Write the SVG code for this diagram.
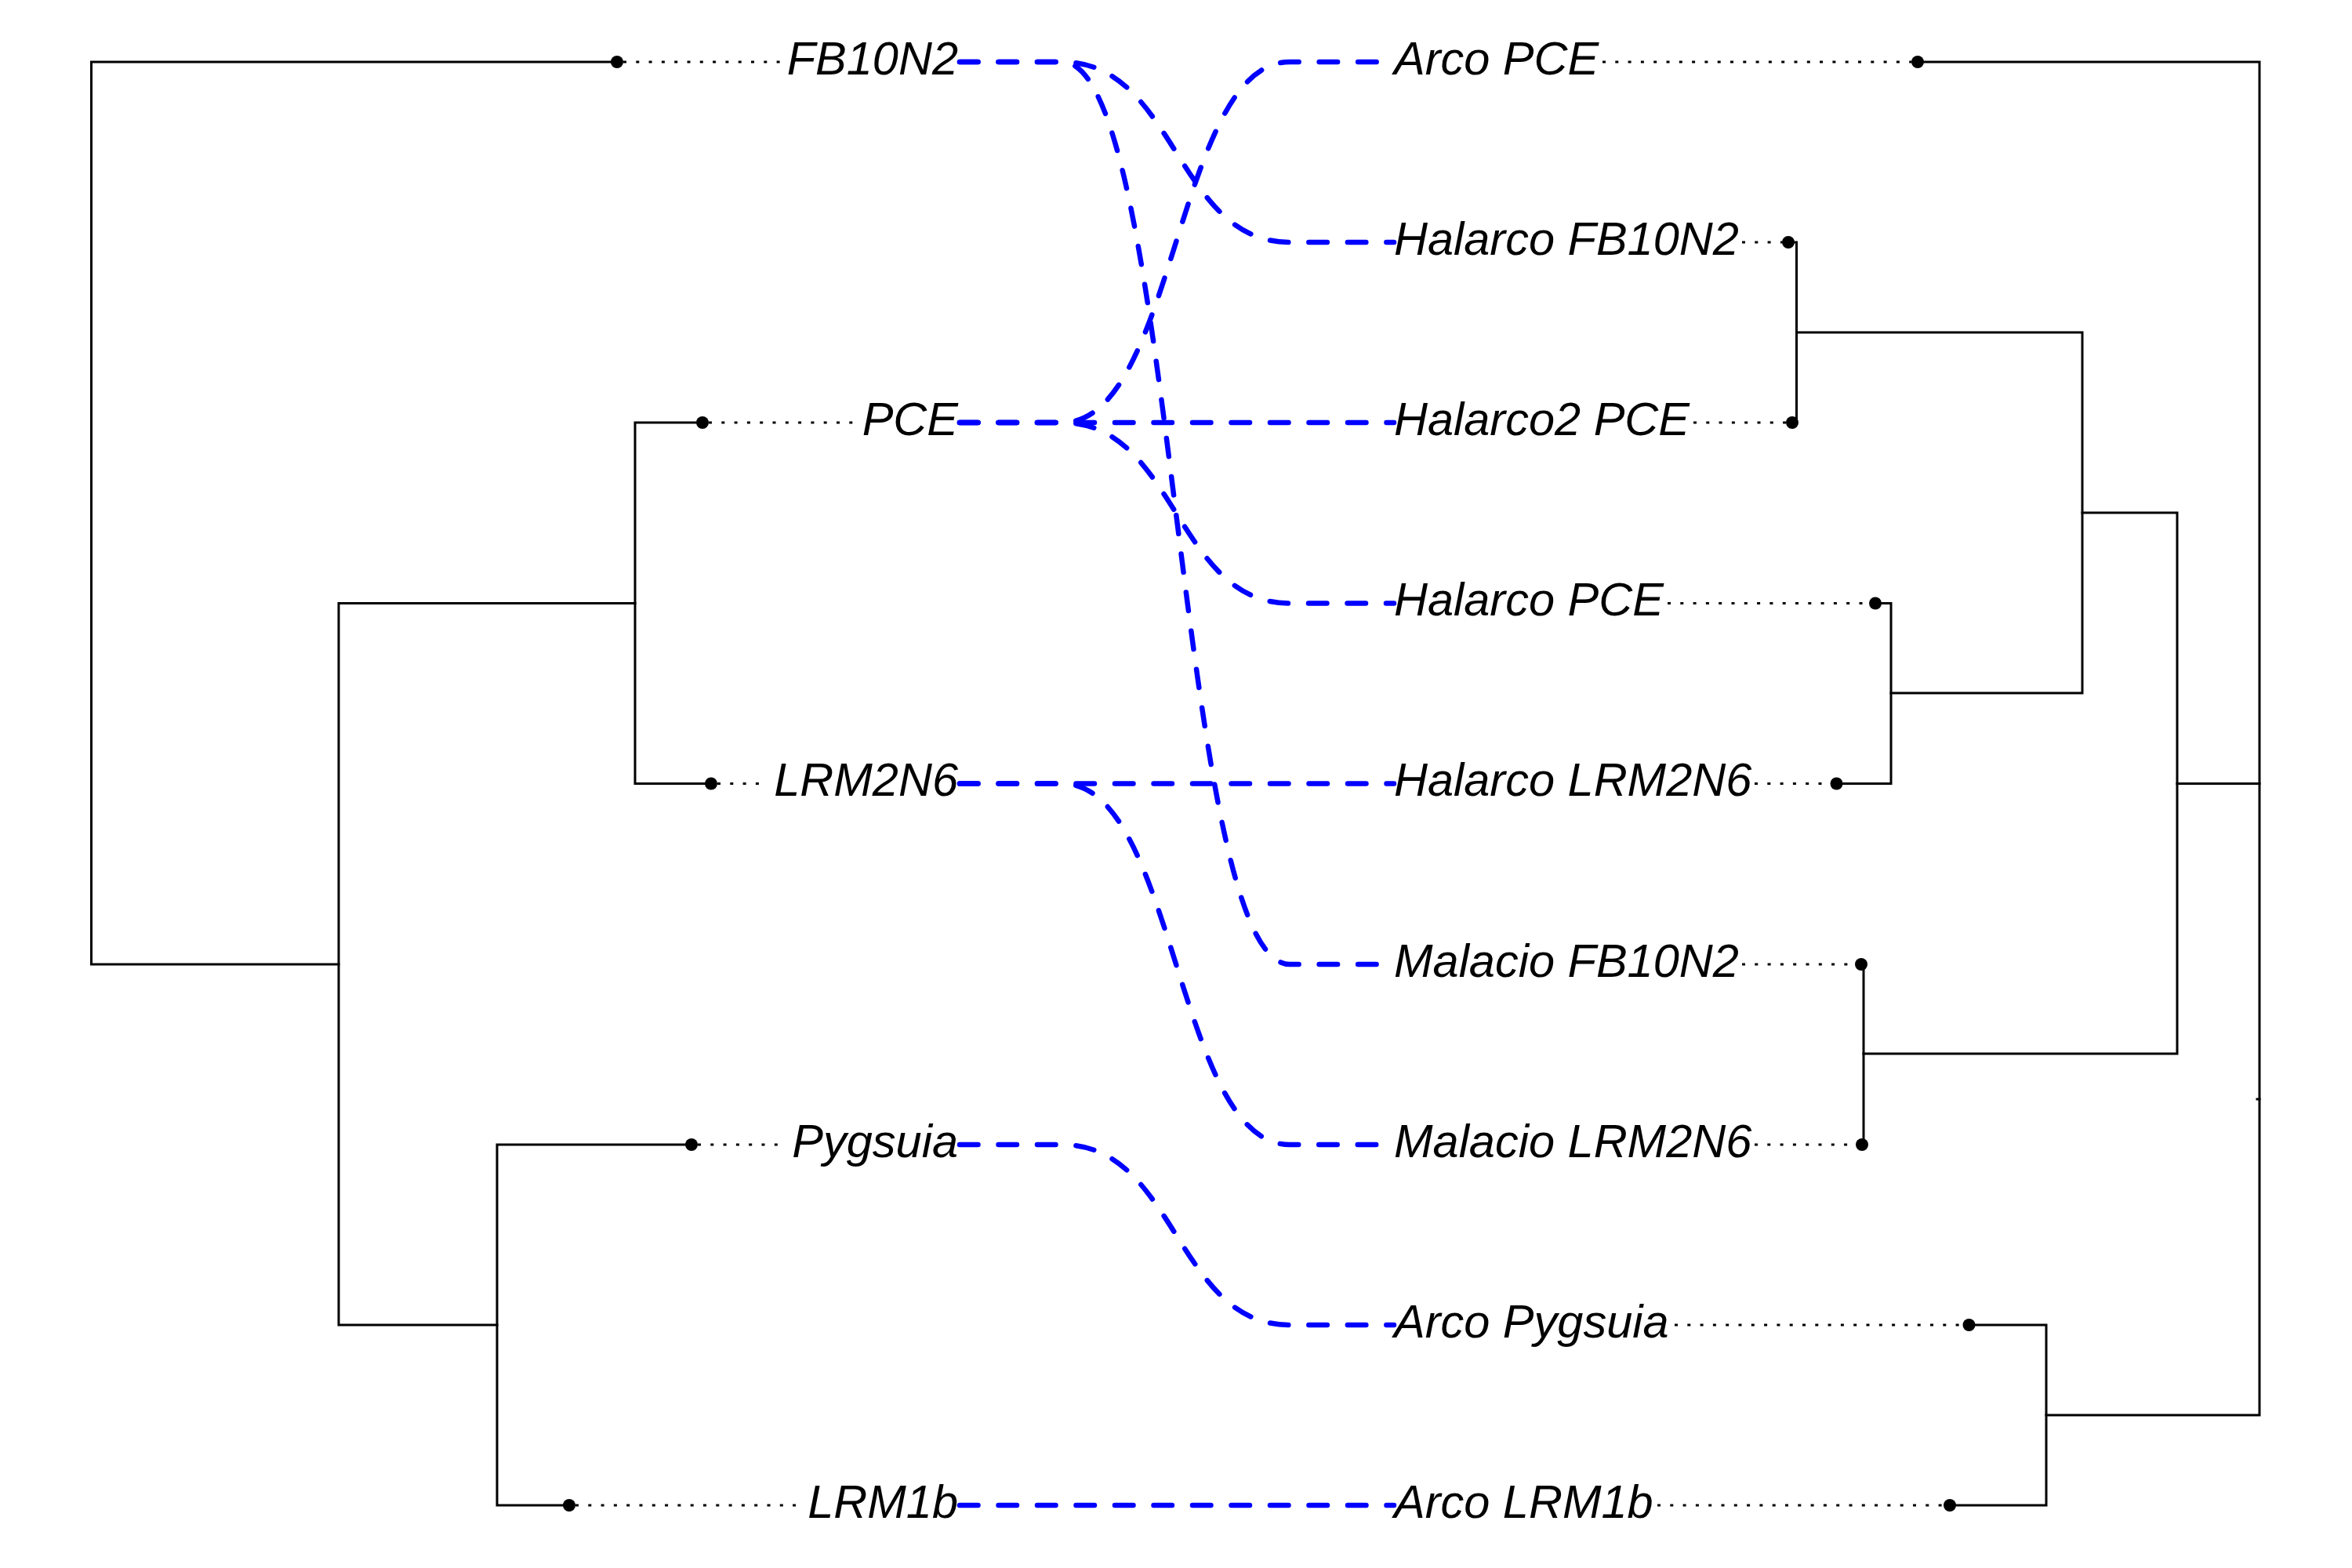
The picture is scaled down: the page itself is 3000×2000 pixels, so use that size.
<svg xmlns="http://www.w3.org/2000/svg" width="3000" height="2000" viewBox="0 0 3000 2000">
<style>
  .bg { fill: #ffffff; }
  .edge { fill: none; stroke: #000000; stroke-width: 3; stroke-linejoin: miter; stroke-linecap: square; }
  .dot { fill: #000000; }
  .guide { fill: none; stroke: #000000; stroke-width: 3; stroke-dasharray: 4 12.3; }
  .lbl { font-family: "Liberation Sans", Arial, sans-serif; font-style: italic; font-size: 59.5px; fill: #000000; }
  .lbl-l { text-anchor: end; }
  .lbl-r { text-anchor: start; }
  .link { fill: none; stroke: #0000ff; stroke-width: 6.5; stroke-linecap: round; stroke-dasharray: 23.5 26; }
</style>
<rect class="bg" x="0" y="0" width="3000" height="2000"/>

<g id="connectors">
  <path class="link" d="M1224,79 H1355 C1500,79 1500,309 1645,309 H1778"/>
  <path class="link" d="M1224,79 H1355 C1500,79 1500,1230 1645,1230 H1778"/>
  <path class="link" d="M1224,539 H1355 C1500,539 1500,79 1645,79 H1778"/>
  <path class="link" d="M1224,539 H1778"/>
  <path class="link" d="M1224,539 H1355 C1500,539 1500,769.5 1645,769.5 H1778"/>
  <path class="link" d="M1224,999.5 H1778"/>
  <path class="link" d="M1224,999.5 H1355 C1500,999.5 1500,1460 1645,1460 H1778"/>
  <path class="link" d="M1224,1460 H1355 C1500,1460 1500,1690 1645,1690 H1778"/>
  <path class="link" d="M1224,1920 H1778"/>
</g>

<g id="tree-left">
  <path class="edge" d="M787,79 H116.5 V1230 H432"/>
  <path class="edge" d="M810,769.5 H432 V1690 H634"/>
  <path class="edge" d="M896,539 H810 V999.5 H907"/>
  <path class="edge" d="M882,1460 H634 V1920 H726"/>
</g>

<g id="tree-right">
  <path class="edge" d="M2446,79 H2882 V1805 H2610"/>
  <path class="edge" d="M2777,999.5 H2882"/>
  <path class="edge" d="M2879,1402 H2882"/>
  <path class="edge" d="M2656,654 H2777 V1344 H2377"/>
  <path class="edge" d="M2291.5,424 H2656 V884 H2412"/>
  <path class="edge" d="M2281,309 H2291.5 V539 H2286"/>
  <path class="edge" d="M2392,769.5 H2412 V999.5 H2342.5"/>
  <path class="edge" d="M2374,1230 H2377 V1460 H2375"/>
  <path class="edge" d="M2511.5,1690 H2610 V1920 H2487"/>
</g>

<g id="leaf-FB10N2">
  <path class="guide" d="M795,79 H996"/>
  <circle class="dot" cx="787" cy="79" r="8"/>
  <text class="lbl lbl-l" x="1222" y="94.5">FB10N2</text>
</g>
<g id="leaf-PCE">
  <path class="guide" d="M904,539 H1093"/>
  <circle class="dot" cx="896" cy="539" r="8"/>
  <text class="lbl lbl-l" x="1222" y="554.5">PCE</text>
</g>
<g id="leaf-LRM2N6">
  <path class="guide" d="M915,999.5 H980"/>
  <circle class="dot" cx="907" cy="999.5" r="8"/>
  <text class="lbl lbl-l" x="1222" y="1015">LRM2N6</text>
</g>
<g id="leaf-Pygsuia">
  <path class="guide" d="M890,1460 H1004"/>
  <circle class="dot" cx="882" cy="1460" r="8"/>
  <text class="lbl lbl-l" x="1222" y="1475.5">Pygsuia</text>
</g>
<g id="leaf-LRM1b">
  <path class="guide" d="M734,1920 H1024"/>
  <circle class="dot" cx="726" cy="1920" r="8"/>
  <text class="lbl lbl-l" x="1222" y="1935.5">LRM1b</text>
</g>

<g id="leaf-Arco-PCE">
  <path class="guide" d="M2044,79 H2438"/>
  <circle class="dot" cx="2446" cy="79" r="8"/>
  <text class="lbl lbl-r" x="1778" y="94.5">Arco PCE</text>
</g>
<g id="leaf-Halarco-FB10N2">
  <path class="guide" d="M2222,309 H2273"/>
  <circle class="dot" cx="2281" cy="309" r="8"/>
  <text class="lbl lbl-r" x="1778" y="324.5">Halarco FB10N2</text>
</g>
<g id="leaf-Halarco2-PCE">
  <path class="guide" d="M2160,539 H2278"/>
  <circle class="dot" cx="2286" cy="539" r="8"/>
  <text class="lbl lbl-r" x="1778" y="554.5">Halarco2 PCE</text>
</g>
<g id="leaf-Halarco-PCE">
  <path class="guide" d="M2127,769.5 H2384"/>
  <circle class="dot" cx="2392" cy="769.5" r="8"/>
  <text class="lbl lbl-r" x="1778" y="785">Halarco PCE</text>
</g>
<g id="leaf-Halarco-LRM2N6">
  <path class="guide" d="M2238,999.5 H2334.5"/>
  <circle class="dot" cx="2342.5" cy="999.5" r="8"/>
  <text class="lbl lbl-r" x="1778" y="1015">Halarco LRM2N6</text>
</g>
<g id="leaf-Malacio-FB10N2">
  <path class="guide" d="M2222,1230 H2366"/>
  <circle class="dot" cx="2374" cy="1230" r="8"/>
  <text class="lbl lbl-r" x="1778" y="1245.5">Malacio FB10N2</text>
</g>
<g id="leaf-Malacio-LRM2N6">
  <path class="guide" d="M2238,1460 H2367"/>
  <circle class="dot" cx="2375" cy="1460" r="8"/>
  <text class="lbl lbl-r" x="1778" y="1475.5">Malacio LRM2N6</text>
</g>
<g id="leaf-Arco-Pygsuia">
  <path class="guide" d="M2136,1690 H2503.5"/>
  <circle class="dot" cx="2511.5" cy="1690" r="8"/>
  <text class="lbl lbl-r" x="1778" y="1705.5">Arco Pygsuia</text>
</g>
<g id="leaf-Arco-LRM1b">
  <path class="guide" d="M2114,1920 H2479"/>
  <circle class="dot" cx="2487" cy="1920" r="8"/>
  <text class="lbl lbl-r" x="1778" y="1935.5">Arco LRM1b</text>
</g>
</svg>
